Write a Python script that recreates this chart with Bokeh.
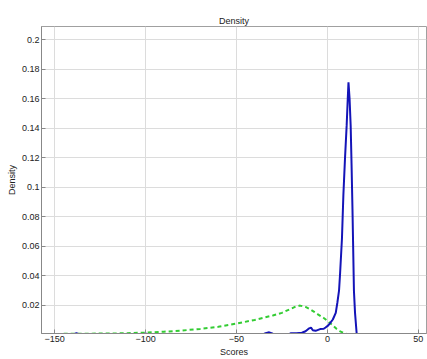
from bokeh.plotting import figure
from bokeh.models import Range1d, FixedTicker
from bokeh.embed import file_html
from bokeh.resources import INLINE

# Blue (solid) density curve
blue_x = [-150, -140, -138, -136, -130, -102, -100, -98, -36, -34, -32, -30, -28,
          -22, -20, -17, -14, -12, -10, -9, -8, -6.5, -4, -2, -1, 0.5, 1.8, 3, 4.6,
          5.5, 6.4, 7, 8, 8.8, 9.7, 10.6, 11.2, 11.6, 12.2, 12.8, 13.3, 13.8, 14.6,
          15.2, 16.1, 17]
blue_y = [0, 0.0002, 0.0012, 0.0002, 0, 0, 0.0010, 0, 0, 0.0012, 0.0018, 0.0008, 0,
          0, 0.0012, 0.0012, 0.0015, 0.0025, 0.0045, 0.0050, 0.0032, 0.0028, 0.0040,
          0.0042, 0.0051, 0.0065, 0.0085, 0.0105, 0.0150, 0.0220, 0.0300, 0.0420,
          0.0650, 0.0950, 0.1200, 0.1420, 0.1600, 0.1712, 0.1600, 0.1420, 0.1150,
          0.0850, 0.0300, 0.0150, 0.0010, 0]

# Green (dashed) density curve
green_x = [-145, -140, -130, -120, -110, -100, -90, -80, -70, -60, -50, -40, -30,
           -25, -20, -17, -15, -12, -10, -7, -5, -2, 0, 3, 5, 7, 10, 13]
green_y = [0.0008, 0.0008, 0.0009, 0.0010, 0.0012, 0.0016, 0.0022, 0.0030, 0.0041,
           0.0055, 0.0077, 0.0102, 0.0132, 0.0150, 0.0178, 0.0195, 0.0199, 0.0190,
           0.0178, 0.0155, 0.0138, 0.0115, 0.0096, 0.0065, 0.0042, 0.0025, 0.0008, 0.0]

x_ticks = [-150, -100, -50, 0, 50]
y_ticks = [0.02, 0.04, 0.06, 0.08, 0.1, 0.12, 0.14, 0.16, 0.18, 0.2]

FONT = "Liberation Sans"

p = figure(width=427, height=359, output_backend="svg", toolbar_location=None,
           x_range=Range1d(-157.2, 54.5), y_range=Range1d(0.001, 0.209),
           min_border_left=41, min_border_right=1, min_border_top=26,
           min_border_bottom=26, title="Density")

p.title.text_font = FONT
p.title.text_font_size = "9px"
p.title.text_font_style = "normal"
p.title.align = "center"
p.title.text_color = "#222222"
p.title.standoff = 2

p.line(green_x, green_y, line_color="#33cc33", line_width=2, line_dash="4 3")
p.line(blue_x, blue_y, line_color="#1414b8", line_width=2)

p.xaxis.ticker = FixedTicker(ticks=x_ticks)
p.yaxis.ticker = FixedTicker(ticks=y_ticks)
p.xaxis.axis_label = "Scores"
p.yaxis.axis_label = "Density"

for ax in (p.xaxis[0], p.yaxis[0]):
    ax.axis_label_text_font = FONT
    ax.axis_label_text_font_size = "9px"
    ax.axis_label_text_font_style = "normal"
    ax.axis_label_text_color = "#222222"
    ax.major_label_text_font = FONT
    ax.major_label_text_font_size = "9px"
    ax.major_label_text_color = "#222222"
    ax.major_tick_in = 4
    ax.major_tick_out = 0
    ax.minor_tick_line_color = None
    ax.axis_line_color = "#888888"
    ax.major_tick_line_color = "#888888"
    ax.major_label_standoff = 2
    ax.axis_label_standoff = 2

p.grid.grid_line_color = "#dcdcdc"
p.outline_line_color = "#a0a0a0"
p.background_fill_color = "white"
p.border_fill_color = "white"

open("out.html", "w").write(file_html(p, INLINE))
